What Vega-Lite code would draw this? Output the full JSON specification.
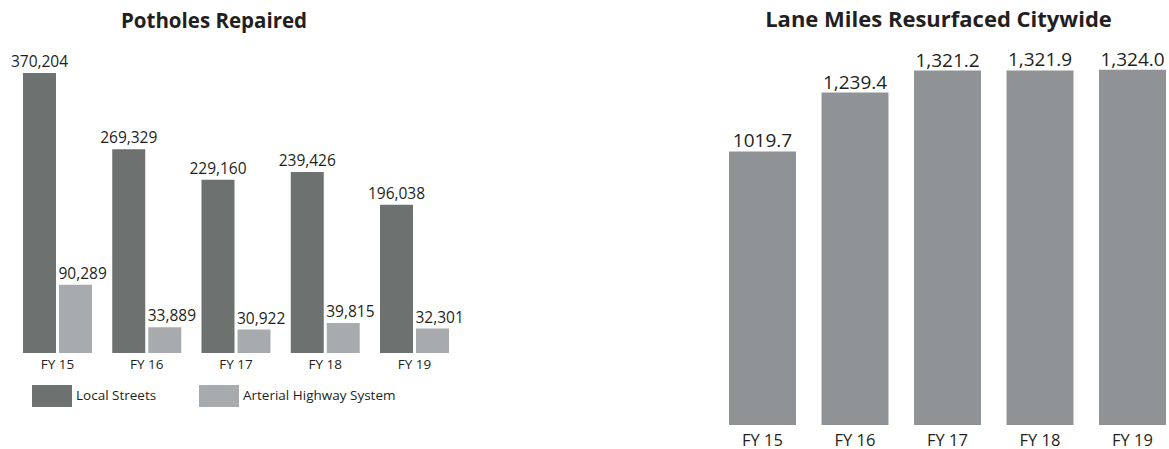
{
  "$schema": "https://vega.github.io/schema/vega-lite/v6.json",
  "padding": {"left": 10, "top": 9, "right": 0, "bottom": 0},
  "background": "white",
  "bounds": "flush",
  "spacing": 280,
  "config": {
    "font": "Open Sans",
    "view": {"stroke": null},
    "title": {"font": "Open Sans", "fontWeight": "bold", "fontSize": 20.5, "color": "#231f20", "anchor": "middle"}
  },
  "datasets": {
    "potholes": [
      {"year": "FY 15", "series": "Local Streets", "value": 370204},
      {"year": "FY 15", "series": "Arterial Highway System", "value": 90289},
      {"year": "FY 16", "series": "Local Streets", "value": 269329},
      {"year": "FY 16", "series": "Arterial Highway System", "value": 33889},
      {"year": "FY 17", "series": "Local Streets", "value": 229160},
      {"year": "FY 17", "series": "Arterial Highway System", "value": 30922},
      {"year": "FY 18", "series": "Local Streets", "value": 239426},
      {"year": "FY 18", "series": "Arterial Highway System", "value": 39815},
      {"year": "FY 19", "series": "Local Streets", "value": 196038},
      {"year": "FY 19", "series": "Arterial Highway System", "value": 32301}
    ],
    "lanes": [
      {"year": "FY 15", "value": 1019.7, "label": "1019.7"},
      {"year": "FY 16", "value": 1239.4, "label": "1,239.4"},
      {"year": "FY 17", "value": 1321.2, "label": "1,321.2"},
      {"year": "FY 18", "value": 1321.9, "label": "1,321.9"},
      {"year": "FY 19", "value": 1324.0, "label": "1,324.0"}
    ]
  },
  "hconcat": [
    {
      "title": {"text": "Potholes Repaired", "dx": -22, "offset": 14},
      "width": 426,
      "height": 307,
      "data": {"name": "potholes"},
      "encoding": {
        "x": {
          "field": "year", "type": "nominal",
          "scale": {"paddingInner": 0.227, "paddingOuter": 0},
          "axis": {"title": null, "domain": false, "ticks": false, "labelAngle": 0, "labelFontSize": 13.5, "labelColor": "#231f20", "labelPadding": 4, "labelFont": "Open Sans"}
        },
        "xOffset": {
          "field": "series", "type": "nominal",
          "scale": {"domain": ["Local Streets", "Arterial Highway System"], "paddingInner": 0.0833, "paddingOuter": 0}
        },
        "y": {
          "field": "value", "type": "quantitative",
          "scale": {"domain": [0, 405900], "nice": false, "zero": true},
          "axis": null
        }
      },
      "layer": [
        {
          "mark": {"type": "bar"},
          "encoding": {
            "color": {
              "field": "series", "type": "nominal",
              "scale": {"domain": ["Local Streets", "Arterial Highway System"], "range": ["#6d7170", "#a8abae"]},
              "legend": {
                "title": null,
                "orient": "none",
                "legendX": 9,
                "legendY": 330,
                "direction": "horizontal",
                "columns": 2,
                "symbolType": "M-1,-0.55H1V0.55H-1Z",
                "symbolSize": 1600,
                "symbolStrokeWidth": 0,
                "symbolOpacity": 1,
                "labelOffset": 4,
                "columnPadding": 42,
                "labelFontSize": 13.5,
                "labelColor": "#231f20",
                "labelFont": "Open Sans"
              }
            }
          }
        },
        {
          "transform": [{"filter": "datum.series === 'Local Streets'"}],
          "mark": {"type": "text", "baseline": "alphabetic", "align": "center", "dy": -6, "fontSize": 15.5, "color": "#231f20"},
          "encoding": {"text": {"field": "value", "type": "quantitative", "format": ","}}
        },
        {
          "transform": [{"filter": "datum.series === 'Arterial Highway System'"}],
          "mark": {"type": "text", "baseline": "alphabetic", "align": "left", "dx": -17, "dy": -6, "fontSize": 15.5, "color": "#231f20"},
          "encoding": {"text": {"field": "value", "type": "quantitative", "format": ","}}
        }
      ],
      "resolve": {"scale": {"color": "independent"}, "legend": {"color": "independent"}}
    },
    {
      "title": {"text": "Lane Miles Resurfaced Citywide", "dx": -9, "offset": 14, "fontSize": 22},
      "width": 437,
      "height": 379,
      "data": {"name": "lanes"},
      "encoding": {
        "x": {
          "field": "year", "type": "nominal",
          "scale": {"paddingInner": 0.276, "paddingOuter": 0},
          "axis": {"title": null, "domain": false, "ticks": false, "labelAngle": 0, "labelFontSize": 16.5, "labelColor": "#231f20", "labelPadding": 7, "labelFont": "Open Sans"}
        },
        "y": {
          "field": "value", "type": "quantitative",
          "scale": {"domain": [0, 1413], "nice": false, "zero": true},
          "axis": null
        }
      },
      "layer": [
        {"mark": {"type": "bar", "color": "#909396"}},
        {
          "mark": {"type": "text", "baseline": "alphabetic", "align": "center", "dy": -4, "fontSize": 19, "color": "#231f20"},
          "encoding": {"text": {"field": "label", "type": "nominal"}}
        }
      ]
    }
  ]
}
